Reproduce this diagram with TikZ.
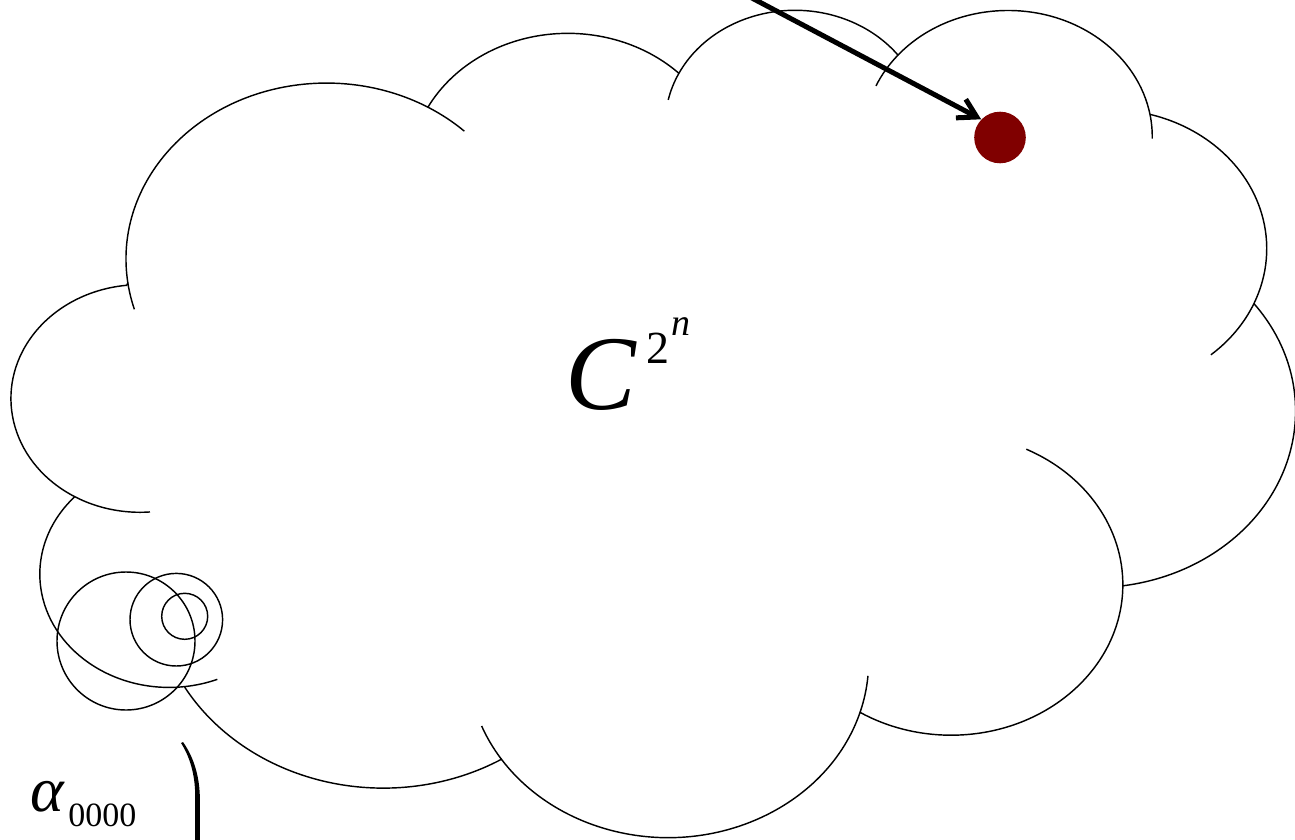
\documentclass[tikz,border=0pt]{standalone}
\usepackage{fontspec}
\setmainfont{Liberation Serif}
\usetikzlibrary{arrows.meta}
\definecolor{dotred}{RGB}{128,0,0}
\begin{document}
\begin{tikzpicture}[x=0.5pt,y=-0.5pt,
  cloudline/.style={line width=0.72pt, black, line join=round},
  ring/.style={circle, draw, line width=0.72pt, inner sep=0pt},
  label/.style={anchor=base west, inner sep=0pt},
  declare function={
    pang(\ra,\rb,\ta)=atan2(\ra*sin(\ta),\rb*cos(\ta));
    pdel(\ra,\rb,\ta,\tw)=pang(\ra,\rb,\ta+\tw)-pang(\ra,\rb,\ta)+360*round((\tw-pang(\ra,\rb,\ta+\tw)+pang(\ra,\rb,\ta))/360);
  },
  ca/.style n args={4}{start angle={pang(#1,#2,#3)}, delta angle={pdel(#1,#2,#3,#4)}, x radius=#1, y radius=#2},
]
\fill[white] (0,0) rectangle (1295,840);
\useasboundingbox (0,0) rectangle (1295,840);

\begin{scope}[x=14.8495pt, y=-9.572pt, shift={(6pt,-3.8pt)}]
  % outline
  \draw[cloudline] (3.900,14.370) coordinate (j0)
    arc[ca={6.753}{9.190}{-190.4875}{123.7805}] coordinate (j1)
    arc[ca={5.333}{7.267}{-144.1024}{89.9452}] coordinate (j2)
    arc[ca={4.365}{5.945}{-145.8079}{99.7230}] coordinate (j3)
    arc[ca={4.857}{6.595}{-130.9861}{117.2417}] coordinate (j4)
    arc[ca={5.333}{7.273}{-78.7089}{109.0269}] coordinate (j5)
    arc[ca={6.775}{9.220}{-46.2673}{130.2690}] coordinate (j6)
    arc[ca={5.785}{7.867}{0.6250}{114.0333}] coordinate (j7)
    arc[ca={6.752}{9.215}{22.4516}{115.1726}] coordinate (j8)
    arc[ca={7.720}{10.543}{66.2426}{75.7110}] coordinate (j9)
    arc[ca={4.360}{5.918}{-274.9421}{146.7356}] coordinate (j10)
    arc[ca={4.345}{5.945}{-246.8285}{152.5189}] -- cycle;
  % inner arcs
  \draw[cloudline] (j10) arc[ca={4.345}{5.945}{-246.8285}{-26.4295}];
  \draw[cloudline] (j9) arc[ca={4.360}{5.918}{-274.9421}{-11.4475}];
  \draw[cloudline] (j8) arc[ca={6.752}{9.215}{137.6240}{14.0811}];
  \draw[cloudline] (j7) arc[ca={6.752}{9.215}{22.4516}{-15.9980}];
  \draw[cloudline] (j6) arc[ca={5.785}{7.867}{0.6250}{-70.9174}];
  \draw[cloudline] (j5) arc[ca={5.333}{7.273}{30.3180}{27.7515}];
  \draw[cloudline] (j4) arc[ca={4.857}{6.595}{-13.7443}{14.8589}];
  \draw[cloudline] (j3) arc[ca={4.857}{6.595}{-130.9861}{-18.1954}];
  \draw[cloudline] (j2) arc[ca={4.365}{5.945}{-145.8079}{-17.6864}];
  \draw[cloudline] (j1) arc[ca={6.753}{9.190}{-66.7070}{11.5}];
  \draw[cloudline] (j0) arc[ca={6.753}{9.190}{-190.4875}{-11.63}];
\end{scope}

% small circles at lower left
\node[ring, minimum size=69pt] (bigring) at (126,641) {};
\node[ring, minimum size=46.3pt] (midring) at (176.3,619.7) {};
\node[ring, minimum size=23pt] (smallring) at (184.7,616.3) {};

% label C^{2^n}
\node[label, font=\fontsize{53pt}{63pt}\selectfont\itshape] (cbase) at (565,409) {C};
\node[label, font=\fontsize{23pt}{28pt}\selectfont] (cexp) at (646,363) {2};
\node[label, font=\fontsize{19pt}{23pt}\selectfont\itshape] (cexpn) at (671,335) {n};

% alpha label
\node[label, font=\fontsize{32pt}{38pt}\selectfont\itshape] (alpha) at (30,811) {α};
\node[label, font=\fontsize{17pt}{20pt}\selectfont] (alphasub) at (68,826) {0000};

% red dot and arrow
\node[circle, fill=dotred, minimum size=25.8pt, inner sep=0pt] (dot) at (1000,137.5) {};
\coordinate (astart) at (750,-3);
\draw[line width=2.5pt, -{Straight Barb[length=9pt,width=10.5pt]}] (astart) -- (dot.136);

% bracket piece at the bottom
\fill[black] (181,743) .. controls (190,757) and (195,775) .. (195.2,795) -- (195.2,842) -- (199.8,842) -- (199.8,795) .. controls (199,774) and (193,756) .. (183,742) -- cycle;
\end{tikzpicture}
\end{document}
